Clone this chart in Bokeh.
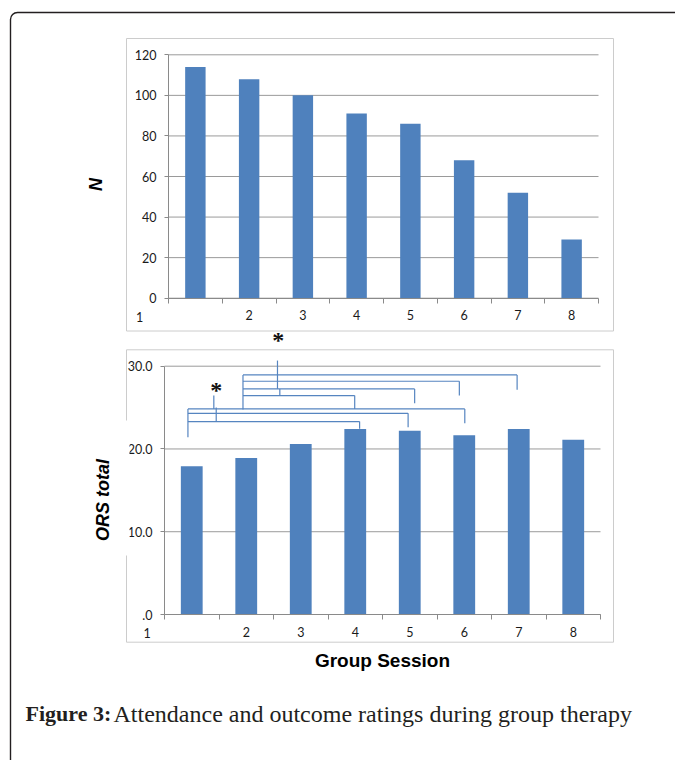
import math
from bokeh.plotting import figure
from bokeh.models import (Range1d, FixedTicker, Label, LabelSet, BoxAnnotation,
                          ColumnDataSource, LinearAxis)
from bokeh.embed import file_html
from bokeh.resources import INLINE

# ---------------- data ----------------
sessions = [1, 2, 3, 4, 5, 6, 7, 8]
session_labels = ["1", "2", "3", "4", "5", "6", "7", "8"]
attendance_n = [114, 108, 100, 91, 86, 68, 52, 29]
ors_total = [17.9, 18.9, 20.6, 22.4, 22.2, 21.65, 22.4, 21.1]
n_ticks = [0, 20, 40, 60, 80, 100, 120]
n_tick_labels = ["0", "20", "40", "60", "80", "100", "120"]
ors_ticks = [0, 10, 20, 30]
ors_tick_labels = [".0", "10.0", "20.0", "30.0"]
session_bounds = [0.5, 1.5, 2.5, 3.5, 4.5, 5.5, 6.5, 7.5, 8.5]

# significance brackets (session positions / ORS levels)
bracket_from = [0.93, 0.93, 0.93, 1.94, 1.94, 1.94, 1.94]
bracket_to = [6.01, 4.97, 4.08, 6.97, 5.91, 5.09, 3.99]
bracket_level = [24.84, 24.31, 23.31, 28.95, 28.18, 27.26, 26.45]
bracket_drop = [23.1, 22.62, 22.43, 27.14, 26.45, 25.52, 24.84]
group_left = [0.93, 1.94]
group_top = [24.84, 28.95]
group_bottom = [21.41, 24.76]
stem_x = [1.405, 1.449, 2.573, 2.616]
stem_top = [26.45, 25.0, 30.68, 27.26]
stem_bottom = [24.84, 23.35, 27.26, 26.45]
star_x = [1.449, 2.586]
star_y = [27.38, 33.42]
star_text = ["*", "*"]

y_title_top = "N"
y_title_bottom = "ORS total"
x_title = "Group Session"
caption_bold = "Figure 3:"
caption_text = "Attendance and outcome ratings during group therapy"

# ---------------- layout / style ----------------
W, H = 675, 760
BAR = "#4f81bd"
GRID = "#9a9a9a"
AXIS = "#8a8a8a"
BOX = "#cccccc"
INK = "#231f20"
LINE = "#5685c0"
TICKFONT = "Lato"
TICKCOL = "#1a1a1a"

# pixel geometry of the two plot areas (page pixels from top-left)
TOP_X = (168.0, 598.0)      # session 0.5 .. 8.5
TOP_Y = (297.7, 54.3)       # N 0 .. 120
BOT_X = (164.0, 600.0)
BOT_Y = (614.0, 365.7)      # ORS 0 .. 30


def xr(v0, v1, p0, p1):
    s = (p1 - p0) / (v1 - v0)
    return Range1d(v0 - p0 / s, v0 + (W - p0) / s)


def yr(v0, v1, p0, p1):
    s = (p0 - p1) / (v1 - v0)
    return Range1d(v0 - (H - p0) / s, v0 + p0 / s)


p = figure(width=W, height=H, output_backend="svg", toolbar_location=None,
           x_range=Range1d(0, W), y_range=Range1d(H, 0),
           x_axis_type=None, y_axis_type=None, min_border=0)
p.outline_line_color = None
p.background_fill_color = "white"
p.border_fill_color = "white"
p.extra_x_ranges = {"tx": xr(0.5, 8.5, *TOP_X), "bx": xr(0.5, 8.5, *BOT_X)}
p.extra_y_ranges = {"ty": yr(0, 120, *TOP_Y), "by": yr(0, 30, *BOT_Y)}


def page_box(**kw):
    return BoxAnnotation(line_alpha=1.0, fill_alpha=1.0, **kw)


# frames / boxes (page pixel coordinates on the default ranges)
p.add_layout(page_box(left=10, right=W + 50, top=12, bottom=H + 50, border_radius=7,
                      fill_color=None, line_color=INK, line_width=1.4))
p.add_layout(page_box(left=126, right=613, top=38, bottom=330.5,
                      fill_color=None, line_color=BOX, line_width=1))
p.add_layout(page_box(left=126, right=613, top=349.3, bottom=641.7,
                      fill_color=None, line_color=BOX, line_width=1))
p.add_layout(page_box(left=123, right=129, top=420, bottom=555,
                      fill_color="white", line_color=None))


def chart(xn, yn, values, ticks, tick_labels, bar_w, one_offset, xlabel=None):
    # gridlines
    gsrc = ColumnDataSource(dict(y=ticks, x0=[0.5] * len(ticks), x1=[8.5] * len(ticks)))
    p.segment(x0="x0", x1="x1", y0="y", y1="y", source=gsrc, line_color=GRID,
              line_width=1, x_range_name=xn, y_range_name=yn)
    p.vbar(x=sessions, top=values, width=bar_w, fill_color=BAR, line_color=None,
           x_range_name=xn, y_range_name=yn)

    xa = LinearAxis(x_range_name=xn, y_range_name=yn, fixed_location=0,
                    bounds=(0.5, 8.5),
                    ticker=FixedTicker(ticks=sessions, minor_ticks=session_bounds))
    xa.major_label_overrides = {s: (l if s != 1 else "") for s, l in zip(sessions, session_labels)}
    xa.major_tick_line_color = None
    xa.major_tick_out = 5
    xa.major_tick_in = 0
    xa.minor_tick_out = 5
    xa.minor_tick_in = 0
    xa.minor_tick_line_color = AXIS
    xa.major_label_standoff = 7
    ya = LinearAxis(x_range_name=xn, y_range_name=yn, fixed_location=0.5,
                    bounds=(ticks[0], ticks[-1]), ticker=FixedTicker(ticks=ticks))
    ya.major_label_overrides = {t: l for t, l in zip(ticks, tick_labels)}
    ya.major_tick_out = 4
    ya.major_tick_in = 0
    ya.major_tick_line_color = AXIS
    ya.minor_tick_line_color = None
    ya.major_label_standoff = 8
    for ax in (xa, ya):
        ax.axis_line_color = AXIS
        ax.major_label_text_font = TICKFONT
        ax.major_label_text_font_size = "12.5px"
        ax.major_label_text_color = TICKCOL
    if xlabel:
        xa.axis_label = xlabel
        xa.axis_label_text_font = "Liberation Sans"
        xa.axis_label_text_font_style = "bold"
        xa.axis_label_text_font_size = "19px"
        xa.axis_label_text_color = "black"
        xa.axis_label_standoff = 10
    p.add_layout(xa, "below")
    p.add_layout(ya, "left")
    # the first session's label sits left of the value axis in the original
    p.add_layout(Label(x=0.5, y=0, x_offset=one_offset, y_offset=-18.5,
                       text=session_labels[0], text_align="center", text_baseline="middle",
                       text_font=TICKFONT, text_font_size="12.5px", text_color=TICKCOL,
                       x_range_name=xn, y_range_name=yn))


chart("tx", "ty", attendance_n, n_ticks, n_tick_labels, 0.38, -29)
chart("bx", "by", ors_total, ors_ticks, ors_tick_labels, 0.4, -17.3, xlabel=x_title)

# vertical axis titles (placed as in the original, slightly below the plot centres)
for txt, px, py in ((y_title_top, 95.5, 184), (y_title_bottom, 102.5, 499.5)):
    p.add_layout(Label(x=px, y=py, text=txt, angle=math.pi / 2, text_align="center",
                       text_baseline="middle", text_font="Liberation Sans",
                       text_font_style="bold italic", text_font_size="18px",
                       text_color="black"))

# brackets
h = ColumnDataSource(dict(x0=bracket_from, x1=bracket_to, y=bracket_level, d=bracket_drop))
p.segment(x0="x0", y0="y", x1="x1", y1="y", source=h, line_color=LINE, line_width=1.2,
          x_range_name="bx", y_range_name="by")
p.segment(x0="x1", y0="y", x1="x1", y1="d", source=h, line_color=LINE, line_width=1.2,
          x_range_name="bx", y_range_name="by")
g = ColumnDataSource(dict(x=group_left, t=group_top, b=group_bottom))
p.segment(x0="x", y0="t", x1="x", y1="b", source=g, line_color=LINE, line_width=1.2,
          x_range_name="bx", y_range_name="by")
s = ColumnDataSource(dict(x=stem_x, t=stem_top, b=stem_bottom))
p.segment(x0="x", y0="t", x1="x", y1="b", source=s, line_color=LINE, line_width=1.2,
          x_range_name="bx", y_range_name="by")
stars = ColumnDataSource(dict(x=star_x, y=star_y, t=star_text))
p.add_layout(LabelSet(x="x", y="y", text="t", source=stars, text_align="center",
                      text_baseline="middle", text_font="Liberation Sans",
                      text_font_style="bold", text_font_size="24px", text_color="#111111",
                      y_offset=-2, x_range_name="bx", y_range_name="by"))

# caption
p.add_layout(Label(x=25, y=713, text=caption_bold, text_font="Liberation Serif",
                   text_font_style="bold", text_font_size="22px", text_color=INK,
                   text_baseline="middle"))
p.add_layout(Label(x=113, y=713, text=caption_text, text_font="Liberation Serif",
                   text_font_size="24px", text_color=INK, text_baseline="middle"))

open("out.html", "w").write(file_html(p, INLINE))
